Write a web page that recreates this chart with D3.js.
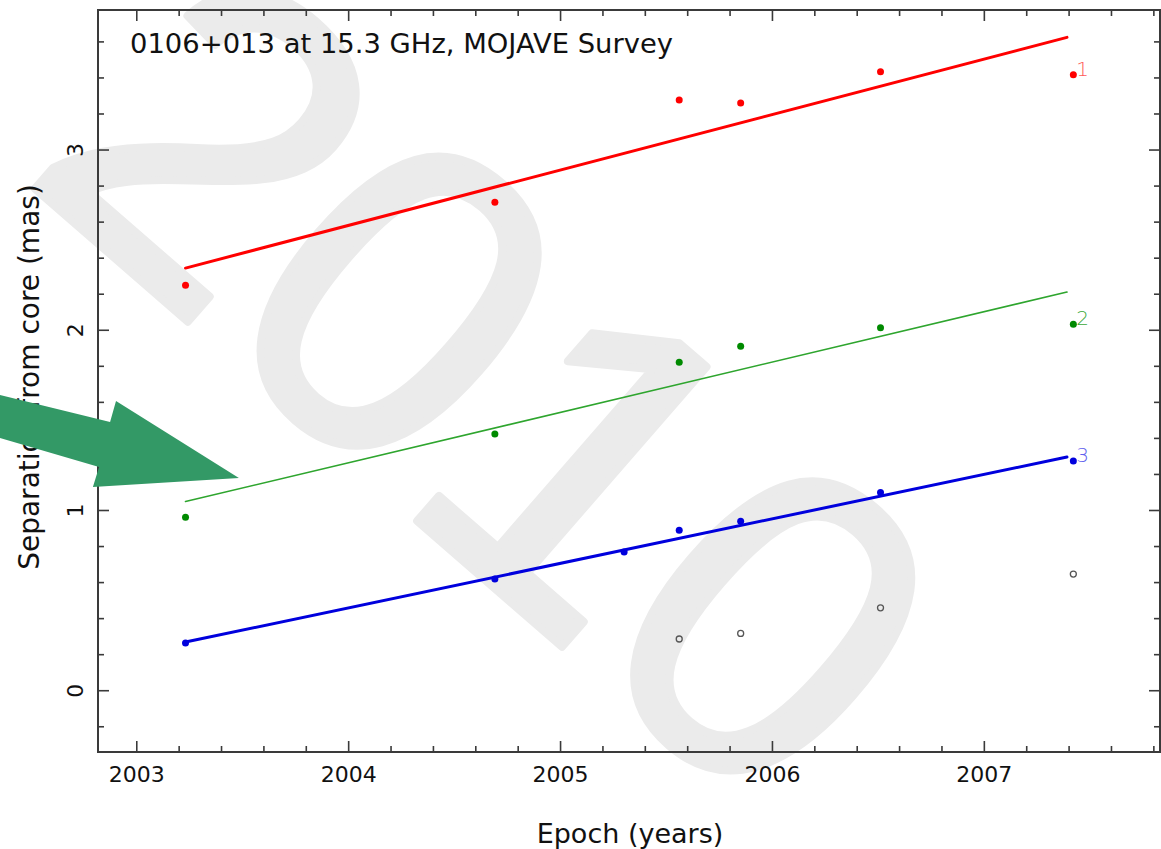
<!DOCTYPE html>
<html><head><meta charset="utf-8">
<script src="https://cdn.jsdelivr.net/npm/d3@7"></script>
<style>html,body{margin:0;padding:0;background:#fff;}svg{display:block;}
.wm{font-family:"Liberation Sans","Arimo",Arial,sans-serif;}
</style>
</head><body>
<script>
// ---- data ----
const epochs1 = [2003.23, 2004.69, 2005.56, 2005.85, 2006.51, 2007.42];
const comp1   = [2.25, 2.71, 3.277, 3.261, 3.435, 3.418];
const epochs2 = [2003.23, 2004.69, 2005.56, 2005.85, 2006.51, 2007.42];
const comp2   = [0.962, 1.424, 1.823, 1.912, 2.014, 2.034];
const epochs3 = [2003.23, 2004.69, 2005.30, 2005.56, 2005.85, 2006.51, 2007.42];
const comp3   = [0.265, 0.62, 0.77, 0.89, 0.94, 1.10, 1.275];
const epochsOpen = [2005.56, 2005.85, 2006.51, 2007.42];
const compOpen   = [0.287, 0.318, 0.46, 0.647];
const fitYears = [2003.23, 2007.39];
const fit1 = [2.345, 3.625];
const fit2 = [1.05, 2.212];
const fit3 = [0.27, 1.297];
const xMajor = [2003, 2004, 2005, 2006, 2007];
const yMajor = [0, 1, 2, 3];
const arrowYears = [2002.354, 2002.874, 2002.902, 2003.482, 2002.793, 2002.822, 2002.354];
const arrowMas   = [1.641, 1.491, 1.607, 1.180, 1.130, 1.241, 1.402];
const title = "0106+013 at 15.3 GHz, MOJAVE Survey";
const xTitle = "Epoch (years)";
const yTitle = "Separation from core (mas)";
const watermark = "2010";

const W = 1161, H = 849;
const L = 98, R = 1160, T = 10, B = 752;
const x = d3.scaleLinear().domain([2002.817, 2007.829]).range([L, R]);
const y = d3.scaleLinear().domain([-0.340, 3.777]).range([B, T]);

const svg = d3.select("body").append("svg").attr("width", W).attr("height", H);
const font = "DejaVu Sans, sans-serif";

// watermark
svg.append("text").text(watermark).attr("class", "wm")
  .attr("transform", "translate(18,174) rotate(41)")
  .attr("font-size", 445)
  .attr("fill", "#ebebeb").attr("stroke", "#ebebeb").attr("stroke-width", 8)
  .attr("stroke-linejoin", "round");

// ticks
const axisColor = "#3a3a3a";
const minorX = d3.range(2002.8, 2007.9, 0.2).map(v => +v.toFixed(1)).filter(v => v >= 2002.817 && v <= 2007.829);
const minorY = d3.range(-0.2, 3.8, 0.2).map(v => +v.toFixed(1)).filter(v => v >= -0.34 && v <= 3.777);
const g = svg.append("g");
function isMajor(v, arr){ return arr.some(a => Math.abs(a - v) < 1e-6); }
minorX.forEach(v => {
  const len = isMajor(v, xMajor) ? 11 : 6;
  g.append("line").attr("x1", x(v)).attr("x2", x(v)).attr("y1", B).attr("y2", B - len)
    .attr("stroke", axisColor).attr("stroke-width", 1.6);
  g.append("line").attr("x1", x(v)).attr("x2", x(v)).attr("y1", T).attr("y2", T + len)
    .attr("stroke", axisColor).attr("stroke-width", 1.6);
});
minorY.forEach(v => {
  const len = isMajor(v, yMajor) ? 11 : 6;
  g.append("line").attr("y1", y(v)).attr("y2", y(v)).attr("x1", L).attr("x2", L + len)
    .attr("stroke", axisColor).attr("stroke-width", 1.6);
  g.append("line").attr("y1", y(v)).attr("y2", y(v)).attr("x1", R).attr("x2", R - len)
    .attr("stroke", axisColor).attr("stroke-width", 1.6);
});
g.append("rect").attr("x", L).attr("y", T).attr("width", R - L).attr("height", B - T)
  .attr("fill", "none").attr("stroke", axisColor).attr("stroke-width", 2);

// tick labels
xMajor.forEach(v => {
  svg.append("text").text(v).attr("x", x(v)).attr("y", 782)
    .attr("text-anchor", "middle").attr("font-family", font).attr("font-size", 22).attr("fill", "#111");
});
yMajor.forEach(v => {
  svg.append("text").text(v).attr("transform", `translate(83,${y(v)}) rotate(-90)`)
    .attr("text-anchor", "middle").attr("font-family", font).attr("font-size", 22).attr("fill", "#111");
});
svg.append("text").text(xTitle).attr("x", 630).attr("y", 843)
  .attr("text-anchor", "middle").attr("font-family", font).attr("font-size", 27).attr("fill", "#111");
svg.append("text").text(yTitle).attr("transform", "translate(39,377) rotate(-90)")
  .attr("text-anchor", "middle").attr("font-family", font).attr("font-size", 28).attr("fill", "#111");
svg.append("text").text(title).attr("x", 130).attr("y", 53)
  .attr("font-family", font).attr("font-size", 27.4).attr("fill", "#111");

// fit lines
const series = [
  {ex: epochs1, v: comp1, fit: fit1, line: "#ff0000", pt: "#ff0000", lw: 3, lab: "1", labc: "#ff5a5a"},
  {ex: epochs2, v: comp2, fit: fit2, line: "#2ea52e", pt: "#008a00", lw: 1.6, lab: "2", labc: "#3aa83a"},
  {ex: epochs3, v: comp3, fit: fit3, line: "#0000dd", pt: "#0000dd", lw: 3, lab: "3", labc: "#6060ee"}
];
series.forEach(s => {
  svg.append("line").attr("x1", x(fitYears[0])).attr("y1", y(s.fit[0]))
    .attr("x2", x(fitYears[1])).attr("y2", y(s.fit[1]))
    .attr("stroke", s.line).attr("stroke-width", s.lw).attr("stroke-linecap", "round");
  svg.selectAll(null).data(s.ex.map((e, i) => [e, s.v[i]])).enter().append("circle")
    .attr("cx", d => x(d[0])).attr("cy", d => y(d[1])).attr("r", 3.5).attr("fill", s.pt);
  const last = s.ex.length - 1;
  svg.append("text").text(s.lab).attr("x", x(s.ex[last]) + 3).attr("y", y(s.v[last]) + 1)
    .attr("font-family", font).attr("font-weight", 200).attr("font-size", 20).attr("fill", s.labc);
});
svg.selectAll(null).data(epochsOpen.map((e, i) => [e, compOpen[i]])).enter().append("circle")
  .attr("cx", d => x(d[0])).attr("cy", d => y(d[1])).attr("r", 3).attr("fill", "none")
  .attr("stroke", "#555").attr("stroke-width", 1.3);

// arrow annotation
const arrowPts = arrowYears.map((a, i) => [x(a), y(arrowMas[i])]);
svg.append("path").attr("d", d3.line()(arrowPts) + "Z").attr("fill", "#339966");
</script>
</body></html>
